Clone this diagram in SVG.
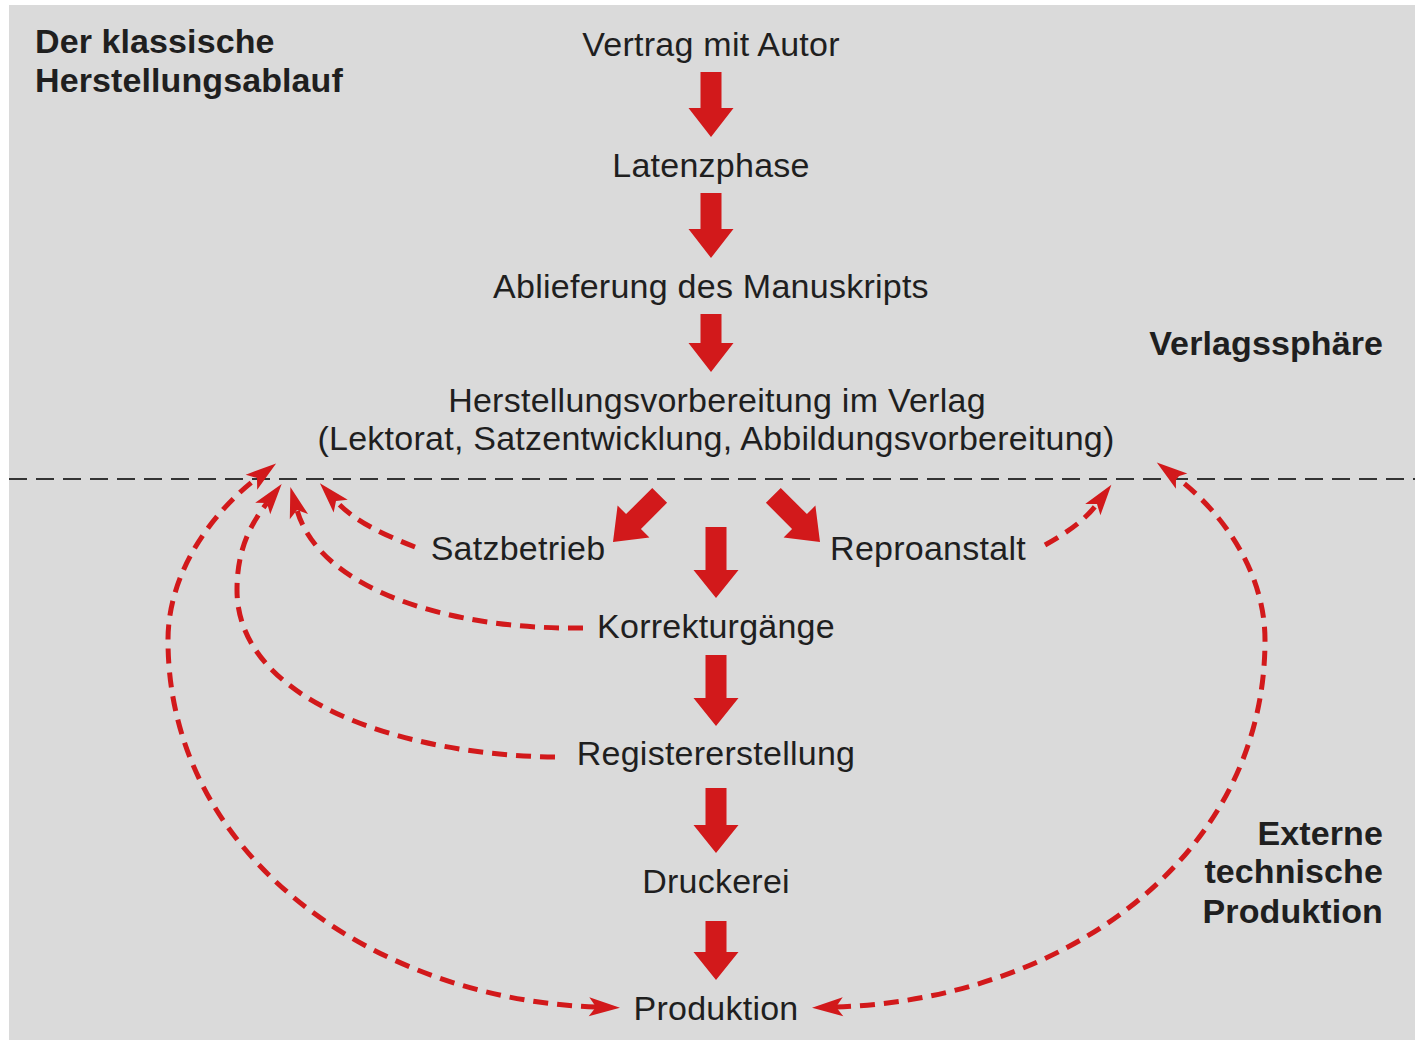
<svg xmlns="http://www.w3.org/2000/svg" width="1415" height="1040" viewBox="0 0 1415 1040">
  <style>
    .lbl { font-family: "Liberation Sans", Arial, sans-serif; font-size: 34px; letter-spacing: 0.25px; fill: #1f1f1f; text-anchor: middle; }
    .head { font-family: "Liberation Sans", Arial, sans-serif; font-size: 34px; letter-spacing: 0.1px; font-weight: bold; fill: #1f1f1f; }
    .end { text-anchor: end; }
    .blk { fill: #d2191b; }
    .flow { fill: none; stroke: #d2191b; stroke-width: 5; stroke-dasharray: 15 9; }
    .border { stroke: #333333; stroke-width: 2; stroke-dasharray: 18 9; }
  </style>
  <defs>
    <marker id="barb" markerUnits="userSpaceOnUse" viewBox="-32 -11 34 22" refX="-24" refY="0" markerWidth="34" markerHeight="22" orient="auto-start-reverse">
      <path d="M0,0 L-31,-9.5 L-24,0 L-31,9.5 Z" fill="#d2191b"/>
    </marker>
  </defs>

  <rect x="9" y="5" width="1406" height="1035" fill="#dadada"/>

  <!-- border between publisher sphere and external production -->
  <line class="border" x1="9" y1="479" x2="1415" y2="479"/>

  <g id="captions">
    <text class="head" x="35" y="53">Der klassische</text>
    <text class="head" x="35" y="92">Herstellungsablauf</text>
    <text class="head end" x="1383" y="355">Verlagssphäre</text>
    <text class="head end" x="1383" y="845">Externe</text>
    <text class="head end" x="1383" y="883">technische</text>
    <text class="head end" x="1383" y="923">Produktion</text>
  </g>

  <g id="n-vertrag"><text class="lbl" x="711" y="56">Vertrag mit Autor</text></g>
  <g id="n-latenz"><text class="lbl" x="711" y="177">Latenzphase</text></g>
  <g id="n-ablieferung"><text class="lbl" x="711" y="298">Ablieferung des Manuskripts</text></g>
  <g id="n-vorbereitung">
    <text class="lbl" x="717" y="412">Herstellungsvorbereitung im Verlag</text>
    <text class="lbl" x="716" y="450">(Lektorat, Satzentwicklung, Abbildungsvorbereitung)</text>
  </g>
  <g id="n-satz"><text class="lbl" x="518" y="560">Satzbetrieb</text></g>
  <g id="n-repro"><text class="lbl" x="928" y="560">Reproanstalt</text></g>
  <g id="n-korrektur"><text class="lbl" x="716" y="638">Korrekturgänge</text></g>
  <g id="n-register"><text class="lbl" x="716" y="765">Registererstellung</text></g>
  <g id="n-druckerei"><text class="lbl" x="716" y="893">Druckerei</text></g>
  <g id="n-produktion"><text class="lbl" x="716" y="1020">Produktion</text></g>

  <g id="connectors">
    <!-- solid block arrows, tip at the local origin -->
    <path class="blk" transform="translate(711,137)" d="M-10.5,-65 H10.5 V-29 H22.5 L0,0 L-22.5,-29 H-10.5 Z"/>
    <path class="blk" transform="translate(711,258)" d="M-10.5,-65 H10.5 V-29 H22.5 L0,0 L-22.5,-29 H-10.5 Z"/>
    <path class="blk" transform="translate(711,372)" d="M-10.5,-58 H10.5 V-29 H22.5 L0,0 L-22.5,-29 H-10.5 Z"/>
    <path class="blk" transform="translate(613,542) rotate(45)" d="M-10.5,-66 H10.5 V-29 H22.5 L0,0 L-22.5,-29 H-10.5 Z"/>
    <path class="blk" transform="translate(820,542) rotate(-45)" d="M-10.5,-66 H10.5 V-29 H22.5 L0,0 L-22.5,-29 H-10.5 Z"/>
    <path class="blk" transform="translate(716,598)" d="M-10.5,-71 H10.5 V-28 H22.5 L0,0 L-22.5,-28 H-10.5 Z"/>
    <path class="blk" transform="translate(716,726)" d="M-10.5,-71 H10.5 V-28 H22.5 L0,0 L-22.5,-28 H-10.5 Z"/>
    <path class="blk" transform="translate(716,853)" d="M-10.5,-65 H10.5 V-28 H22.5 L0,0 L-22.5,-28 H-10.5 Z"/>
    <path class="blk" transform="translate(716,980)" d="M-10.5,-59 H10.5 V-28 H22.5 L0,0 L-22.5,-28 H-10.5 Z"/>

    <!-- dashed feedback loops -->
    <path class="flow" marker-start="url(#barb)" marker-end="url(#barb)" d="M596,1007 C380,1000 168,860 168,640 C168,570 215,510 257,478"/>
    <path class="flow" marker-end="url(#barb)" d="M555,757 C400,755 237,700 237,590 C237,550 250,525 267,503"/>
    <path class="flow" marker-end="url(#barb)" d="M583,628 C450,630 320,590 297,510"/>
    <path class="flow" marker-end="url(#barb)" d="M415,547 C385,535 355,522 336,501"/>
    <path class="flow" marker-end="url(#barb)" d="M1045,545 C1068,532 1085,520 1097,504"/>
    <path class="flow" marker-start="url(#barb)" marker-end="url(#barb)" d="M836,1007 C1060,1000 1265,860 1265,640 C1265,570 1220,510 1176,477"/>
  </g>
</svg>
